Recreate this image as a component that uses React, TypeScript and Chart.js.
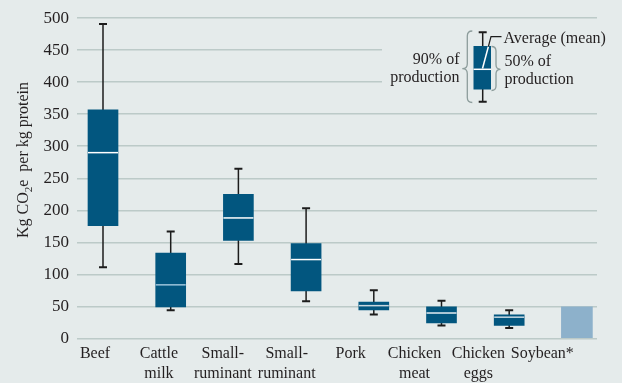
import React, { useEffect, useRef } from "react";
import { Chart, registerables } from "chart.js";

Chart.register(...registerables);

// ---- data ----
const categoryLabels: string[][] = [
  ["Beef"],
  ["Cattle", "milk"],
  ["Small-", "ruminant"],
  ["Small-", "ruminant"],
  ["Pork"],
  ["Chicken", "meat"],
  ["Chicken", "eggs"],
  ["Soybean*"],
];
const whiskerLow: (number | null)[] = [111, 44, 116, 58, 37, 20, 16, null];
const quartile1: (number | null)[] = [176, 49, 153, 74, 44.5, 24, 20, null];
const medians: (number | null)[] = [290, 83.5, 188, 123, 51, 39.5, 33, null];
const quartile3: (number | null)[] = [357, 133, 225, 148, 56.5, 49, 36.5, null];
const whiskerHigh: (number | null)[] = [491, 167, 265, 203, 75, 58.5, 44, null];
const soyValues: (number | null)[] = [null, null, null, null, null, null, null, 49];
const yMin = 0;
const yMax = 500;
const yStep = 50;

// ---- styles ----
const BG = "#e5ebeb";
const GRID = "#bccac8";
const BOX = "#02567f";
const SOY = "#8db1cb";
const TEXT = "#231f20";
const WHISKER = "#1c1c1c";
const BRACE = "#8d9d9c";
const medianColors = ["#ffffff", "#9cc3da", "#ffffff", "#ffffff", "#c9d7df", "#e4edf2", "#c9d9e3", "#ffffff"];
const FONT = "Liberation Serif";

const boxPlotPlugin = {
  id: "boxPlotExtras",
  beforeDatasetsDraw(chart: any) {
    const ctx = chart.ctx;
    // legend area hides some gridlines
    ctx.save();
    ctx.fillStyle = BG;
    ctx.fillRect(382, 30, 230, 70);
    ctx.restore();

    const xs = chart.scales.x;
    const ys = chart.scales.y;
    ctx.save();
    ctx.strokeStyle = WHISKER;
    ctx.lineWidth = 1.5;
    for (let i = 0; i < categoryLabels.length; i++) {
      const lo = whiskerLow[i];
      const hi = whiskerHigh[i];
      if (lo == null || hi == null) continue;
      const x = xs.getPixelForValue(i);
      const yl = ys.getPixelForValue(lo);
      const yh = ys.getPixelForValue(hi);
      ctx.beginPath();
      ctx.moveTo(x, yl);
      ctx.lineTo(x, yh);
      ctx.stroke();
      ctx.lineWidth = 2;
      ctx.beginPath();
      ctx.moveTo(x - 4, yl);
      ctx.lineTo(x + 4, yl);
      ctx.moveTo(x - 4, yh);
      ctx.lineTo(x + 4, yh);
      ctx.stroke();
      ctx.lineWidth = 1.5;
    }
    ctx.restore();
  },
  afterDatasetsDraw(chart: any) {
    const ctx = chart.ctx;
    const ys = chart.scales.y;
    const meta = chart.getDatasetMeta(0);
    ctx.save();
    ctx.lineWidth = 1.5;
    for (let i = 0; i < meta.data.length; i++) {
      const el = meta.data[i];
      const raw: any = meta._parsed ? meta._parsed[i] : null;
      const idx = raw ? Math.round(raw.x) : i;
      const m = medians[idx];
      if (m == null || !el) continue;
      const { x, width } = el.getProps(["x", "width"], true);
      const y = ys.getPixelForValue(m);
      ctx.strokeStyle = medianColors[idx];
      ctx.beginPath();
      ctx.moveTo(x - width / 2, y);
      ctx.lineTo(x + width / 2, y);
      ctx.stroke();
    }
    ctx.restore();
  },
  afterDraw(chart: any) {
    const ctx = chart.ctx;
    ctx.save();
    // y-axis title with subscript
    ctx.fillStyle = TEXT;
    ctx.translate(28, 160);
    ctx.rotate(-Math.PI / 2);
    const big = `16px "${FONT}"`;
    const small = `11px "${FONT}"`;
    const p1 = "Kg CO";
    const p2 = "2";
    const p3 = "e  per kg protein";
    ctx.font = big;
    const w1 = ctx.measureText(p1).width;
    const w3 = ctx.measureText(p3).width;
    ctx.font = small;
    const w2 = ctx.measureText(p2).width;
    const total = w1 + w2 + w3;
    let cx = -total / 2;
    ctx.textBaseline = "alphabetic";
    ctx.textAlign = "left";
    ctx.font = big;
    ctx.fillText(p1, cx, 0);
    cx += w1;
    ctx.font = small;
    ctx.fillText(p2, cx, 4);
    cx += w2;
    ctx.font = big;
    ctx.fillText(p3, cx, 0);
    ctx.restore();

    // inset key
    ctx.save();
    const wx = 482.7;
    ctx.strokeStyle = WHISKER;
    ctx.lineWidth = 1.5;
    ctx.beginPath();
    ctx.moveTo(wx, 32.3);
    ctx.lineTo(wx, 101.7);
    ctx.stroke();
    ctx.lineWidth = 2;
    ctx.beginPath();
    ctx.moveTo(wx - 4, 32.3);
    ctx.lineTo(wx + 4, 32.3);
    ctx.moveTo(wx - 4, 101.7);
    ctx.lineTo(wx + 4, 101.7);
    ctx.stroke();
    ctx.fillStyle = BOX;
    ctx.fillRect(473.5, 46, 17.5, 43.5);
    ctx.strokeStyle = "#ffffff";
    ctx.lineWidth = 1.5;
    ctx.beginPath();
    ctx.moveTo(473.5, 69.3);
    ctx.lineTo(491, 69.3);
    ctx.stroke();
    ctx.beginPath();
    ctx.moveTo(482.5, 68.5);
    ctx.lineTo(488.4, 46.5);
    ctx.stroke();
    ctx.strokeStyle = WHISKER;
    ctx.lineWidth = 1.2;
    ctx.beginPath();
    ctx.moveTo(488.4, 46.5);
    ctx.lineTo(491, 36.7);
    ctx.lineTo(501.5, 36.7);
    ctx.stroke();
    const brace = (xStem: number, yTop: number, yBot: number, yMid: number, dir: number, r: number) => {
      ctx.beginPath();
      ctx.moveTo(xStem - dir * r, yTop);
      ctx.quadraticCurveTo(xStem, yTop, xStem, yTop + r);
      ctx.lineTo(xStem, yMid - r);
      ctx.quadraticCurveTo(xStem, yMid, xStem + dir * r, yMid);
      ctx.quadraticCurveTo(xStem, yMid, xStem, yMid + r);
      ctx.lineTo(xStem, yBot - r);
      ctx.quadraticCurveTo(xStem, yBot, xStem - dir * r, yBot);
      ctx.stroke();
    };
    ctx.strokeStyle = BRACE;
    ctx.lineWidth = 1.3;
    brace(467.3, 31, 102.5, 68.7, -1, 5);
    brace(496, 46.5, 90.5, 69.3, 1, 4.5);
    ctx.fillStyle = TEXT;
    ctx.font = `16px "${FONT}"`;
    ctx.textBaseline = "alphabetic";
    ctx.textAlign = "left";
    ctx.fillText("Average (mean)", 503.5, 43.3);
    ctx.fillText("50% of", 504.5, 65.5);
    ctx.fillText("production", 504.5, 83.5);
    ctx.textAlign = "right";
    ctx.fillText("90% of", 459.5, 63.5);
    ctx.fillText("production", 459.5, 81.7);
    ctx.restore();
  },
};

export default function App() {
  const canvasRef = useRef<HTMLCanvasElement | null>(null);

  useEffect(() => {
    document.body.style.margin = "0";
    document.body.style.background = BG;
    const canvas = canvasRef.current;
    if (!canvas) return;

    const boxData = categoryLabels
      .map((_, i) =>
        quartile1[i] == null || quartile3[i] == null ? null : { x: i, y: [quartile1[i], quartile3[i]] }
      )
      .filter((d) => d !== null);
    const soyData = soyValues
      .map((v, i) => (v == null ? null : { x: i, y: v }))
      .filter((d) => d !== null);

    const chart = new Chart(canvas, {
      type: "bar",
      data: {
        datasets: [
          {
            label: "Range",
            data: boxData as any,
            backgroundColor: BOX,
            barThickness: 30,
            grouped: false,
            borderWidth: 0,
          },
          {
            label: "Soybean",
            data: soyData as any,
            backgroundColor: SOY,
            barThickness: 31,
            grouped: false,
            borderWidth: 0,
          },
        ],
      },
      options: {
        responsive: false,
        animation: false,
        devicePixelRatio: 1,
        layout: { padding: { top: 17, right: 25, left: 0, bottom: 0 } },
        plugins: {
          legend: { display: false },
          tooltip: { enabled: false },
          title: { display: false },
        },
        scales: {
          x: {
            type: "linear",
            display: false,
            offset: false,
            min: -0.384,
            max: 7.297,
          },
          xLabels: {
            type: "linear",
            position: "bottom",
            offset: false,
            min: -0.282,
            max: 7.856,
            grid: { display: false, drawTicks: false, offset: false },
            border: { display: false },
            afterBuildTicks: (axis: any) => {
              axis.ticks = categoryLabels.map((_, i) => ({ value: i }));
            },
            afterFit: (axis: any) => {
              axis.height = 44.7;
            },
            ticks: {
              autoSkip: false,
              maxRotation: 0,
              minRotation: 0,
              padding: 5,
              color: TEXT,
              font: { family: FONT, size: 16, lineHeight: 1.25 },
              callback: (v: any) => categoryLabels[Math.round(Number(v))] ?? "",
            },
          },
          y: {
            type: "linear",
            min: yMin,
            max: yMax,
            afterFit: (axis: any) => {
              axis.width = 77;
            },
            grid: { color: GRID, lineWidth: 1.5, drawTicks: false },
            border: { display: false },
            ticks: {
              stepSize: yStep,
              padding: 8,
              color: TEXT,
              font: { family: FONT, size: 17 },
            },
          },
        },
      } as any,
      plugins: [boxPlotPlugin],
    });

    return () => chart.destroy();
  }, []);

  return (
    <div style={{ width: 622, height: 383, background: BG, position: "relative" }}>
      <canvas ref={canvasRef} width={622} height={383} style={{ width: 622, height: 383, display: "block" }} />
    </div>
  );
}
